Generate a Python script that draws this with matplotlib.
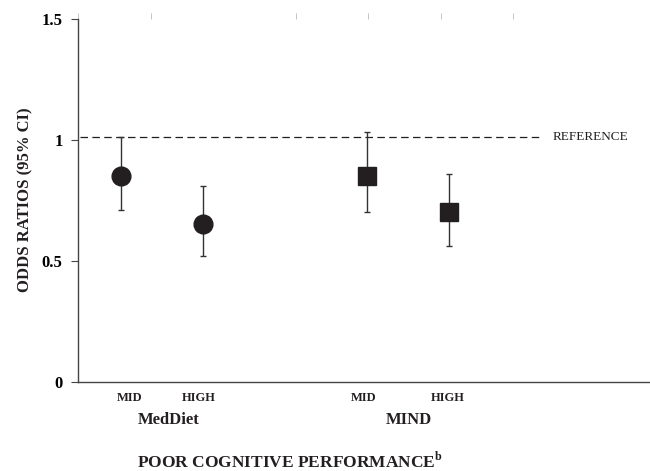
import matplotlib
matplotlib.use("Agg")
import matplotlib.pyplot as plt

# odds ratios (95% CI)
groups = ["MedDiet", "MIND"]
levels = ["MID", "HIGH"]
x_pos = [1, 2, 4, 5]
odds = [0.85, 0.65, 0.85, 0.70]
ci_low = [0.71, 0.52, 0.70, 0.56]
ci_high = [1.01, 0.81, 1.03, 0.86]
markers = ["o", "o", "s", "s"]

ref_value = 1.01
level_label_x = [1.11, 1.95, 3.96, 4.99]
group_label_x = [1.58, 4.51]
top_marks = [0.48, 1.37, 3.14, 4.01, 4.90, 5.78]

plt.rcParams["font.family"] = ["Liberation Serif", "DejaVu Serif"]
plt.rcParams["mathtext.fontset"] = "custom"
plt.rcParams["mathtext.rm"] = "Liberation Serif"
plt.rcParams["mathtext.bf"] = "Liberation Serif:bold"
ink = "#231f20"

fig = plt.figure(figsize=(6.5, 4.71), dpi=100)
ax = fig.add_axes([0.12, 0.19, 0.88, 0.77])

for x, y, lo, hi, m in zip(x_pos, odds, ci_low, ci_high, markers):
    ax.errorbar(x, y, yerr=[[y - lo], [hi - y]], fmt=m, color=ink,
                ecolor="#333333", elinewidth=1.0, capsize=2.5, capthick=1.0,
                markersize=13.5, zorder=3)

# reference line
ax.plot([0.5, 6.14], [ref_value, ref_value], color=ink, lw=0.9,
        dashes=(6, 3.5), zorder=2)
ax.text(6.26, ref_value, "REFERENCE", fontsize=9.5, va="center", ha="left",
        color=ink)

ax.set_xlim(0.5, 7.45)
ax.set_ylim(0, 1.5)
ax.set_yticks([0, 0.5, 1, 1.5])
ax.set_yticklabels(["0", "0.5", "1", "1.5"], fontsize=12, fontweight="bold")

ax.set_xticks(top_marks)
ax.tick_params(axis="x", bottom=False, labelbottom=False, top=True,
               direction="out", length=4, width=0.6, color="#bbbbbb")
ax.tick_params(axis="y", direction="out", length=5, width=0.8, color="#444444",
               pad=6)

for side in ["top", "right"]:
    ax.spines[side].set_visible(False)
for side in ["left", "bottom"]:
    ax.spines[side].set_color("#444444")
    ax.spines[side].set_linewidth(1.0)

trans = ax.get_xaxis_transform()
for i, x in enumerate(level_label_x):
    ax.text(x, -0.028, levels[i % 2], transform=trans, ha="center", va="top",
            fontsize=9, fontweight="bold", color=ink)
for g, x in zip(groups, group_label_x):
    ax.text(x, -0.085, g, transform=trans, ha="center", va="top",
            fontsize=12, fontweight="bold", color=ink)

ax.set_ylabel("ODDS RATIOS (95% CI)", fontsize=12, fontweight="bold",
              color=ink, labelpad=6)
fig.text(0.446, 0.022, "POOR COGNITIVE PERFORMANCE$^{\\mathbf{b}}$",
         ha="center", va="center", fontsize=12.5, fontweight="bold", color=ink)

fig.savefig("out.png", dpi=100)
